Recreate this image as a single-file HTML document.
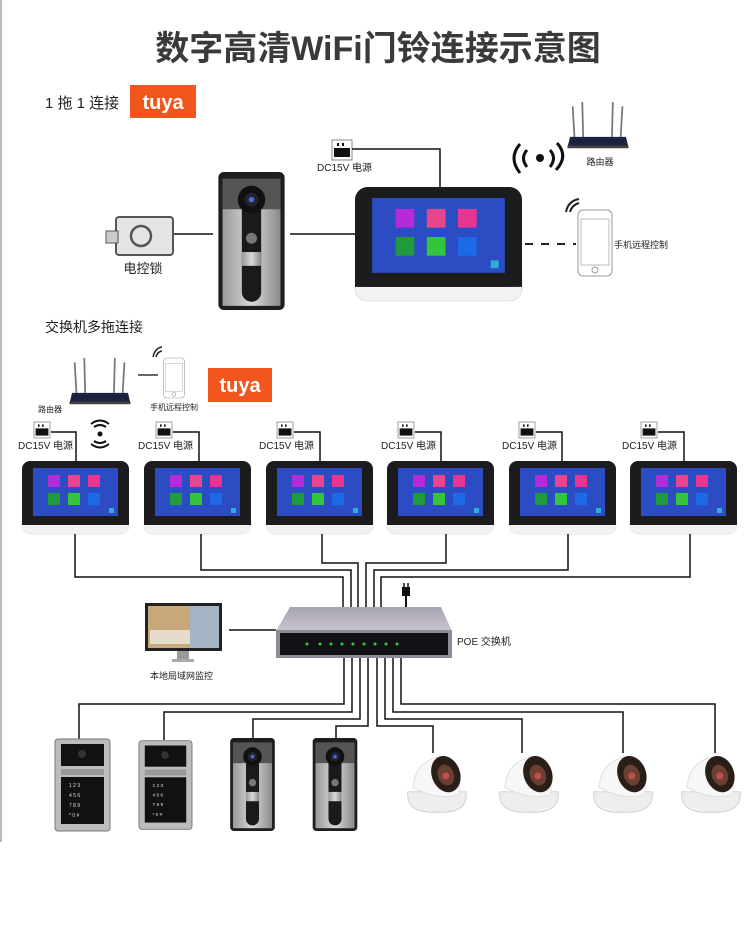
<!DOCTYPE html>
<html><head><meta charset="utf-8"><style>
html,body{margin:0;padding:0;background:#fff;}
svg{display:block;}
text{font-family:"Liberation Sans","Noto Sans CJK SC",sans-serif;fill:#222;}
</style></head><body>
<svg width="750" height="935" viewBox="0 0 750 935" xmlns="http://www.w3.org/2000/svg">
<defs>
<linearGradient id="silver" x1="0" x2="1"><stop offset="0" stop-color="#9a9a9a"/><stop offset=".5" stop-color="#d8d8d8"/><stop offset="1" stop-color="#8a8a8a"/></linearGradient>
<linearGradient id="sw" x1="0" y1="0" x2="0" y2="1"><stop offset="0" stop-color="#a8a3b0"/><stop offset="1" stop-color="#c9c5d0"/></linearGradient>
<symbol id="mon" viewBox="0 0 107 73" overflow="visible">
<rect x="0" y="52" width="107" height="21" rx="8" fill="#f2f2f2" stroke="#ddd" stroke-width=".5"/>
<rect x="0" y="0" width="107" height="64" rx="8" fill="#1c1c1e"/>
<rect x="0" y="56" width="107" height="8" fill="#1c1c1e"/>
<rect x="11" y="7" width="85" height="48" fill="#2b4cc2"/>
<rect x="26" y="14" width="12" height="12" fill="#b52ad9"/>
<rect x="46" y="14" width="12" height="12" fill="#e8468c"/>
<rect x="66" y="14" width="12" height="12" fill="#e83592"/>
<rect x="26" y="32" width="12" height="12" fill="#1f9a3c"/>
<rect x="46" y="32" width="12" height="12" fill="#33c53b"/>
<rect x="66" y="32" width="12" height="12" fill="#1d6ae6"/>
<rect x="87" y="47" width="5" height="5" fill="#2ab0d8"/>
</symbol>
<symbol id="db" viewBox="0 0 48 100" overflow="visible">
<rect x="0" y="0" width="48" height="100" rx="4" fill="#1e1e1e"/>
<rect x="3" y="5" width="42" height="92" fill="url(#silver)"/>
<rect x="3" y="5" width="42" height="22" fill="#555"/>
<rect x="17" y="10" width="14" height="84" rx="7" fill="#1a1a1a"/>
<circle cx="24" cy="20" r="10" fill="#111"/>
<circle cx="24" cy="20" r="5" fill="#223"/><circle cx="24" cy="20" r="2" fill="#4a6ad0"/>
<circle cx="24" cy="48" r="4" fill="#777"/>
<rect x="17" y="58" width="14" height="10" fill="url(#silver)"/>
</symbol>
<symbol id="kp" viewBox="0 0 55 92" overflow="visible">
<rect x="0" y="0" width="55" height="92" rx="3" fill="#bcbcbc" stroke="#777"/>
<rect x="6" y="5" width="43" height="22" fill="#111"/>
<rect x="6" y="30" width="43" height="6" fill="#999"/>
<rect x="6" y="38" width="43" height="47" fill="#111"/>
<g fill="#ddd" font-size="5"><text x="14" y="48" style="fill:#ddd">1  2  3</text><text x="14" y="58" style="fill:#ddd">4  5  6</text><text x="14" y="68" style="fill:#ddd">7  8  9</text><text x="14" y="78" style="fill:#ddd">*  0  #</text></g>
<circle cx="27" cy="15" r="4" fill="#333"/>
</symbol>
<symbol id="cam" viewBox="0 0 70 70" overflow="visible">
<path d="M2 45 Q0 70 35 68 Q70 70 68 45 Z" fill="#eeeeee" stroke="#ccc"/>
<path d="M8 40 Q10 10 40 5 Q62 20 60 48 Q35 55 8 40Z" fill="#f7f7f7" stroke="#ddd"/>
<ellipse cx="45" cy="25" rx="16" ry="21" transform="rotate(-20 45 25)" fill="#2a1e18"/>
<ellipse cx="45" cy="26" rx="9" ry="12" transform="rotate(-20 45 26)" fill="#6a4030"/>
<circle cx="45" cy="27" r="4" fill="#c05050"/>
</symbol>
<symbol id="plug" viewBox="0 0 20 20" overflow="visible">
<rect x="0" y="0" width="20" height="20" fill="#fff" stroke="#888"/>
<rect x="2" y="8" width="16" height="9" fill="#111"/>
<rect x="5" y="3" width="2" height="3" fill="#111"/><rect x="10" y="3" width="2" height="3" fill="#111"/>
</symbol>
<symbol id="router" viewBox="0 0 70 55" overflow="visible">
<g stroke="#777" stroke-width="2"><line x1="6" y1="5" x2="8" y2="40"/><line x1="17" y1="0" x2="18" y2="40"/><line x1="52" y1="0" x2="51" y2="40"/><line x1="63" y1="5" x2="61" y2="40"/></g>
<path d="M3 40 L67 40 L70 52 L0 52Z" fill="#1c2240"/>
<rect x="0" y="50" width="70" height="3" fill="#444"/>
</symbol>
<symbol id="phone" viewBox="0 0 34 66" overflow="visible">
<rect x="0" y="0" width="34" height="66" rx="5" fill="#fff" stroke="#999"/>
<rect x="3" y="9" width="28" height="46" fill="#fff" stroke="#bbb"/>
<circle cx="17" cy="60" r="3" fill="none" stroke="#999"/>
</symbol>
</defs>

<line x1="1" y1="0" x2="1" y2="842" stroke="#bbb" stroke-width="2"/>

<text x="378" y="60" text-anchor="middle" font-size="34" font-weight="bold" style="fill:#3a3a3a">数字高清WiFi门铃连接示意图</text>

<!-- section 1 -->
<text x="45" y="108" font-size="15">1 拖 1 连接</text>
<rect x="130" y="85" width="66" height="33" fill="#f0561e"/>
<text x="163" y="109" text-anchor="middle" font-size="20" font-weight="bold" style="fill:#fff">tuya</text>

<use href="#router" x="565" y="102" width="66" height="48"/>
<text x="600" y="165" text-anchor="middle" font-size="9">路由器</text>
<g fill="none" stroke="#111" stroke-width="3"><path d="M527 150 Q520 158 527 167"/><path d="M520 144 Q508 158 520 173"/><path d="M550 150 Q557 158 550 167"/><path d="M557 143 Q569 156 556 170"/></g>
<circle cx="540" cy="158" r="4" fill="#111"/>

<use href="#plug" x="332" y="139" width="20" height="22"/>
<text x="317" y="171" font-size="10">DC15V 电源</text>
<polyline points="352,149 440,149 440,187" fill="none" stroke="#111" stroke-width="1.5"/>

<use href="#mon" x="355" y="187" width="167" height="114"/>

<use href="#phone" x="578" y="210" width="34" height="66"/>
<g fill="none" stroke="#222" stroke-width="2"><path d="M570 212 Q572 205 579 203"/><path d="M566 212 Q568 201 579 199"/></g>
<line x1="525" y1="244" x2="576" y2="244" stroke="#222" stroke-width="2" stroke-dasharray="8,8"/>
<text x="614" y="248" font-size="9">手机远程控制</text>

<use href="#db" x="213" y="172" width="77" height="138"/>
<line x1="290" y1="234" x2="355" y2="234" stroke="#111" stroke-width="1.5"/>
<line x1="173" y1="234" x2="213" y2="234" stroke="#111" stroke-width="1.5"/>
<rect x="116" y="217" width="57" height="38" rx="3" fill="#e4e4e4" stroke="#555" stroke-width="2"/>
<rect x="106" y="231" width="12" height="12" fill="#ccc" stroke="#555"/>
<circle cx="141" cy="236" r="10" fill="none" stroke="#555" stroke-width="2.5"/>
<text x="143" y="273" text-anchor="middle" font-size="13">电控锁</text>

<!-- section 2 -->
<text x="45" y="332" font-size="14">交换机多拖连接</text>
<use href="#router" x="66" y="358" width="68" height="48"/>
<text x="38" y="412" font-size="8">路由器</text>
<line x1="138" y1="375" x2="158" y2="375" stroke="#333" stroke-width="1.5"/>
<use href="#phone" x="163" y="358" width="22" height="40"/>
<g fill="none" stroke="#222" stroke-width="1.5"><path d="M156 357 Q157 352 162 351"/><path d="M153 357 Q155 348 162 347"/></g>
<text x="150" y="410" font-size="8">手机远程控制</text>
<rect x="208" y="368" width="64" height="34" fill="#f0561e"/>
<text x="240" y="392" text-anchor="middle" font-size="20" font-weight="bold" style="fill:#fff">tuya</text>

<g fill="none" stroke="#111" stroke-width="2"><path d="M94 427 Q100 423 106 427"/><path d="M94 441 Q100 445 106 441"/><path d="M91 424 Q100 417 109 424"/><path d="M91 444 Q100 451 109 444"/></g>
<circle cx="100" cy="434" r="2.5" fill="#111"/>

<!-- monitors -->
<g>
<use href="#plug" x="33" y="422" width="18" height="16"/><text x="18" y="449" font-size="10">DC15V 电源</text>
<polyline points="51,432 76,432 76,462" fill="none" stroke="#111" stroke-width="1.5"/>
<use href="#mon" x="22" y="461" width="107" height="73"/>

<use href="#plug" x="155" y="422" width="18" height="16"/><text x="138" y="449" font-size="10">DC15V 电源</text>
<polyline points="173,432 199,432 199,462" fill="none" stroke="#111" stroke-width="1.5"/>
<use href="#mon" x="144" y="461" width="107" height="73"/>

<use href="#plug" x="276" y="422" width="18" height="16"/><text x="259" y="449" font-size="10">DC15V 电源</text>
<polyline points="294,432 320,432 320,462" fill="none" stroke="#111" stroke-width="1.5"/>
<use href="#mon" x="266" y="461" width="107" height="73"/>

<use href="#plug" x="397" y="422" width="18" height="16"/><text x="381" y="449" font-size="10">DC15V 电源</text>
<polyline points="415,432 441,432 441,462" fill="none" stroke="#111" stroke-width="1.5"/>
<use href="#mon" x="387" y="461" width="107" height="73"/>

<use href="#plug" x="518" y="422" width="18" height="16"/><text x="502" y="449" font-size="10">DC15V 电源</text>
<polyline points="536,432 562,432 562,462" fill="none" stroke="#111" stroke-width="1.5"/>
<use href="#mon" x="509" y="461" width="107" height="73"/>

<use href="#plug" x="640" y="422" width="18" height="16"/><text x="622" y="449" font-size="10">DC15V 电源</text>
<polyline points="658,432 684,432 684,462" fill="none" stroke="#111" stroke-width="1.5"/>
<use href="#mon" x="630" y="461" width="107" height="73"/>
</g>

<!-- wires to switch -->
<g fill="none" stroke="#111" stroke-width="1.5">
<polyline points="75,534 75,577 343,577 343,607"/>
<polyline points="201,534 201,570 351,570 351,607"/>
<polyline points="322,534 322,563 358,563 358,607"/>
<polyline points="446,534 446,563 366,563 366,607"/>
<polyline points="568,534 568,570 374,570 374,607"/>
<polyline points="690,534 690,577 381,577 381,607"/>
</g>

<!-- switch -->
<line x1="406" y1="590" x2="406" y2="608" stroke="#111" stroke-width="2"/>
<rect x="402" y="587" width="8" height="9" fill="#111"/>
<line x1="404" y1="583" x2="404" y2="588" stroke="#111" stroke-width="1.5"/><line x1="408" y1="583" x2="408" y2="588" stroke="#111" stroke-width="1.5"/>
<path d="M290 607 L441 607 L452 631 L276 631Z" fill="url(#sw)"/>
<rect x="276" y="630" width="176" height="28" fill="#8e8a96"/>
<rect x="280" y="633" width="168" height="22" fill="#121216"/>
<g fill="#3c3"><circle cx="307" cy="644" r="1.5"/><circle cx="320" cy="644" r="1.5"/><circle cx="331" cy="644" r="1.5"/><circle cx="342" cy="644" r="1.5"/><circle cx="353" cy="644" r="1.5"/><circle cx="364" cy="644" r="1.5"/><circle cx="375" cy="644" r="1.5"/><circle cx="386" cy="644" r="1.5"/><circle cx="397" cy="644" r="1.5"/></g>
<text x="457" y="645" font-size="10">POE 交换机</text>

<!-- PC -->
<rect x="145" y="603" width="77" height="48" fill="#222"/>
<rect x="148" y="606" width="71" height="42" fill="#c9a97a"/>
<rect x="190" y="606" width="29" height="42" fill="#a5b4c4"/>
<rect x="150" y="630" width="40" height="14" fill="#e6dccb"/>
<rect x="177" y="651" width="12" height="8" fill="#999"/><rect x="172" y="659" width="22" height="3" fill="#aaa"/>
<line x1="229" y1="630" x2="276" y2="630" stroke="#111" stroke-width="1.5"/>
<text x="150" y="679" font-size="9">本地局域网监控</text>

<!-- lower wires -->
<g fill="none" stroke="#111" stroke-width="1.5">
<polyline points="344,658 344,704 79,704 79,740"/>
<polyline points="352,658 352,712 164,712 164,740"/>
<polyline points="360,658 360,719 253,719 253,738"/>
<polyline points="368,658 368,726 336,726 336,738"/>
<polyline points="377,658 377,726 433,726 433,753"/>
<polyline points="385,658 385,719 522,719 522,753"/>
<polyline points="393,658 393,712 623,712 623,753"/>
<polyline points="401,658 401,704 715,704 715,753"/>
</g>

<use href="#kp" x="55" y="739" width="55" height="92"/>
<use href="#kp" x="139" y="739" width="53" height="92"/>
<use href="#db" x="228" y="738" width="49" height="93"/>
<use href="#db" x="311" y="738" width="48" height="93"/>
<use href="#cam" x="402" y="752" width="70" height="62"/>
<use href="#cam" x="494" y="752" width="70" height="62"/>
<use href="#cam" x="588" y="752" width="70" height="62"/>
<use href="#cam" x="676" y="752" width="70" height="62"/>
</svg>
</body></html>
